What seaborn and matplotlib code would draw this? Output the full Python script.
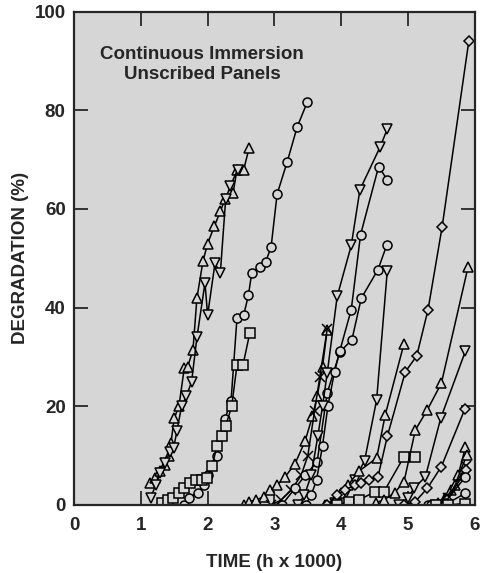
import numpy as np
import pandas as pd
import seaborn as sns
import matplotlib.pyplot as plt

# Degradation curves, time in h x 1000, degradation in %
up1_t = [1.14, 1.21, 1.29, 1.36, 1.42, 1.45, 1.50, 1.57, 1.65, 1.70, 1.78, 1.84, 1.93, 2.00, 2.10, 2.19, 2.26, 2.38, 2.44, 2.54, 2.62]
up1_y = [4.4, 5.4, 6.8, 8.1, 10.0, 12.5, 17.6, 20.0, 27.7, 28.0, 31.4, 42.0, 49.4, 53.0, 56.5, 59.5, 62.0, 63.2, 68.0, 68.0, 72.3]

dn1_t = [1.15, 1.22, 1.29, 1.36, 1.44, 1.49, 1.54, 1.61, 1.68, 1.76, 1.84, 1.96, 2.00, 2.11, 2.19, 2.27, 2.34, 2.45]
dn1_y = [1.5, 4.0, 6.4, 8.5, 10.8, 11.5, 15.0, 20.0, 22.0, 25.0, 34.0, 45.0, 38.5, 49.0, 47.0, 62.0, 64.7, 68.0]

ci1_t = [1.64, 1.72, 1.85, 1.95, 2.01, 2.14, 2.26, 2.35, 2.44, 2.54, 2.61, 2.66, 2.78, 2.87, 2.95, 3.04, 3.19, 3.34, 3.49]
ci1_y = [0.0, 1.5, 2.5, 4.0, 6.0, 10.0, 17.5, 21.0, 38.0, 38.5, 42.5, 47.0, 48.3, 49.3, 52.3, 63.0, 69.5, 76.6, 81.6]

sq1_t = [1.31, 1.40, 1.48, 1.57, 1.65, 1.74, 1.82, 1.91, 1.99, 2.07, 2.14, 2.22, 2.27, 2.36, 2.44, 2.53, 2.63]
sq1_y = [0.5, 1.0, 1.5, 2.5, 3.5, 4.5, 5.0, 5.0, 5.5, 8.0, 12.0, 14.0, 16.0, 20.0, 28.4, 28.4, 34.8]

up3_t = [2.54, 2.62, 2.73, 2.84, 2.94, 3.04, 3.16, 3.31, 3.46, 3.57, 3.64, 3.72, 3.79]
up3_y = [0.0, 0.7, 1.0, 1.7, 3.0, 4.0, 5.7, 8.4, 13.0, 18.0, 22.0, 28.0, 35.5]

x3_t = [2.95, 3.10, 3.25, 3.40, 3.50, 3.60, 3.68, 3.79]
x3_y = [0.0, 1.0, 3.0, 6.0, 10.0, 19.0, 26.0, 35.6]

ci3a_t = [3.11, 3.31, 3.46, 3.64, 3.79, 3.98, 4.16, 4.30, 4.55, 4.68]
ci3a_y = [0.0, 3.4, 6.0, 8.8, 22.7, 31.0, 33.5, 41.9, 47.7, 52.6]

ci3b_t = [3.47, 3.55, 3.63, 3.72, 3.80, 3.90, 3.98, 4.15, 4.29, 4.56, 4.69]
ci3b_y = [0.0, 2.0, 5.0, 12.0, 20.0, 27.0, 31.3, 39.6, 54.8, 68.6, 65.9]

dn3a_t = [3.35, 3.45, 3.55, 3.65, 3.72, 3.79, 3.94, 4.15, 4.28, 4.58, 4.69]
dn3a_y = [0.0, 2.0, 6.0, 14.0, 20.0, 26.7, 42.3, 52.6, 63.9, 72.5, 76.2]

dn3b_t = [3.90, 4.05, 4.20, 4.35, 4.53, 4.69]
dn3b_y = [0.5, 2.0, 5.0, 9.0, 21.3, 47.5]

up4a_t = [3.75, 3.90, 4.00, 4.10, 4.26, 4.53, 4.66, 4.94]
up4a_y = [0.0, 1.0, 2.5, 4.0, 6.8, 9.5, 18.3, 32.7]

di4a_t = [3.79, 3.94, 4.05, 4.20, 4.29, 4.42, 4.55, 4.69, 4.96, 5.13, 5.30, 5.51, 5.91]
di4a_y = [0.0, 2.0, 3.0, 4.0, 4.4, 5.0, 5.7, 13.9, 27.0, 30.2, 39.6, 56.3, 94.0]

sq3_t = [3.94, 4.11, 4.26, 4.51, 4.64, 4.94, 5.10]
sq3_y = [0.0, 0.7, 1.0, 2.7, 2.7, 9.8, 9.8]

up4b_t = [4.52, 4.64, 4.80, 4.94, 5.11, 5.29, 5.50, 5.90]
up4b_y = [0.5, 1.0, 2.5, 4.7, 15.2, 19.3, 24.7, 48.3]

dn4_t = [4.87, 5.00, 5.09, 5.26, 5.49, 5.86]
dn4_y = [0.0, 1.5, 3.4, 5.7, 17.6, 31.2]

di4b_t = [4.94, 5.11, 5.29, 5.50, 5.85]
di4b_y = [0.0, 0.7, 3.4, 7.8, 19.4]

up5a_t = [5.35, 5.45, 5.55, 5.65, 5.75, 5.86]
up5a_y = [0.0, 0.5, 1.5, 3.0, 6.0, 11.7]

up5b_t = [5.40, 5.55, 5.70, 5.88]
up5b_y = [0.0, 1.0, 4.0, 10.1]

x5_t = [5.40, 5.60, 5.87]
x5_y = [0.0, 1.5, 8.0]

di5_t = [5.38, 5.58, 5.87]
di5_y = [0.0, 1.0, 7.0]

ci5a_t = [5.30, 5.55, 5.86]
ci5a_y = [0.0, 0.5, 5.7]

ci5b_t = [5.34, 5.55, 5.86]
ci5b_y = [0.0, 0.0, 2.4]

sq5_t = [5.42, 5.60, 5.85]
sq5_y = [0.0, 0.0, 0.3]

series = [
    (up1_t, up1_y, '^'), (dn1_t, dn1_y, 'v'), (ci1_t, ci1_y, 'o'), (sq1_t, sq1_y, 's'),
    (up3_t, up3_y, '^'), (x3_t, x3_y, 'x'), (ci3a_t, ci3a_y, 'o'), (ci3b_t, ci3b_y, 'o'),
    (dn3a_t, dn3a_y, 'v'), (dn3b_t, dn3b_y, 'v'), (up4a_t, up4a_y, '^'), (di4a_t, di4a_y, 'D'),
    (sq3_t, sq3_y, 's'), (up4b_t, up4b_y, '^'), (dn4_t, dn4_y, 'v'), (di4b_t, di4b_y, 'D'),
    (up5a_t, up5a_y, '^'), (up5b_t, up5b_y, '^'), (x5_t, x5_y, 'x'), (di5_t, di5_y, 'D'),
    (ci5a_t, ci5a_y, 'o'), (ci5b_t, ci5b_y, 'o'), (sq5_t, sq5_y, 's'),
]

sns.set_style('ticks')
plt.rcParams['font.family'] = ['Liberation Sans', 'DejaVu Sans']
plt.rcParams['font.weight'] = 'bold'

bg = '#d6d6d6'
fig = plt.figure(figsize=(4.84, 5.73), dpi=100)
ax = fig.add_axes([0.153, 0.1187, 0.828, 0.861])
ax.set_facecolor(bg)

for t, y, m in series:
    df = pd.DataFrame({'t': t, 'y': y})
    size = 6.5 if m != 'D' else 5.5
    sns.lineplot(data=df, x='t', y='y', ax=ax, sort=False, estimator=None,
                 color='black', linewidth=1.1, marker=m, markersize=size,
                 markerfacecolor=bg, markeredgecolor='black', markeredgewidth=1.1)

ax.set_xlim(0, 6)
ax.set_ylim(0, 100)
ax.set_xticks(range(0, 7))
ax.set_yticks(range(0, 101, 20))
ax.tick_params(direction='in', length=10, width=1.3, labelsize=13.5,
               top=True, right=True, pad=6)
ax.tick_params(axis='x', pad=9)
for s in ax.spines.values():
    s.set_linewidth(1.6)

ax.set_xlabel('TIME (h x 1000)', fontsize=13.5, fontweight='bold', labelpad=14)
ax.set_ylabel('DEGRADATION (%)', fontsize=13.5, fontweight='bold', labelpad=4)
ax.text(0.32, 0.893, 'Continuous Immersion\nUnscribed Panels', transform=ax.transAxes,
        ha='center', va='center', fontsize=13.5, fontweight='bold', linespacing=1.2)

fig.savefig('out.png', dpi=100)
